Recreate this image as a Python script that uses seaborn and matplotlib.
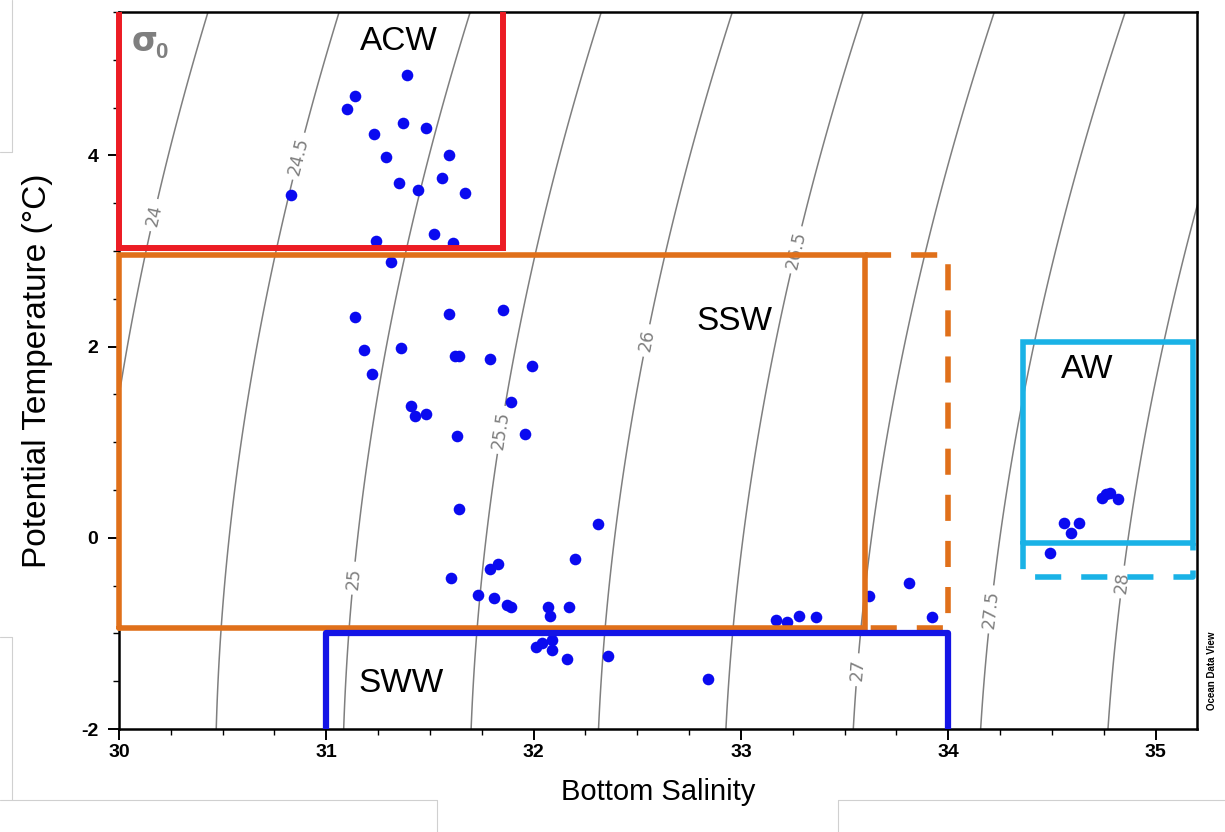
import numpy as np
import pandas as pd
import matplotlib
matplotlib.use("Agg")
import matplotlib.pyplot as plt
from matplotlib.ticker import MultipleLocator
from matplotlib.lines import Line2D
import seaborn as sns

# ---------------- data ----------------
salinity = [31.39, 31.14, 31.10, 31.37, 31.48, 31.23, 31.29, 31.59, 31.35, 31.56, 31.44, 31.67, 30.83,
            31.52, 31.24, 31.61, 31.31,
            31.14, 31.59, 31.85, 31.18, 31.36, 31.62, 31.64, 31.79, 31.99, 31.22, 31.89, 31.41, 31.43,
            31.48, 31.63, 31.96,
            31.64, 32.31, 32.20, 31.60, 31.79, 31.83, 31.73, 31.81, 31.87, 31.89, 32.07, 32.17, 32.08,
            32.01, 32.04, 32.09, 32.09, 32.16, 32.36, 32.84,
            33.17, 33.22, 33.28, 33.36, 33.62, 33.81, 33.92,
            34.49, 34.56, 34.59, 34.63, 34.74, 34.76, 34.78, 34.82]
temperature = [4.84, 4.62, 4.49, 4.34, 4.29, 4.22, 3.98, 4.00, 3.71, 3.76, 3.64, 3.61, 3.59,
               3.18, 3.10, 3.08, 2.88,
               2.31, 2.34, 2.38, 1.96, 1.99, 1.90, 1.90, 1.87, 1.80, 1.71, 1.42, 1.38, 1.27,
               1.30, 1.06, 1.09,
               0.30, 0.14, -0.22, -0.42, -0.33, -0.27, -0.60, -0.63, -0.70, -0.72, -0.72, -0.72, -0.82,
               -1.14, -1.10, -1.07, -1.17, -1.27, -1.24, -1.48,
               -0.86, -0.88, -0.82, -0.83, -0.61, -0.47, -0.83,
               -0.16, 0.15, 0.05, 0.15, 0.42, 0.46, 0.47, 0.41]

sigma_levels = [24.0, 24.5, 25.0, 25.5, 26.0, 26.5, 27.0, 27.5, 28.0]
sigma_label_S = [30.16, 30.87, 31.12, 31.84, 32.53, 33.25, 33.56, 34.21, 34.83]
sigma_label_T = [3.38, 3.99, -0.42, 1.13, 2.07, 3.02, -1.38, -0.75, -0.46]

x_ticks = [30, 31, 32, 33, 34, 35]
y_ticks = [-2, 0, 2, 4]

# water-mass boxes (salinity range, temperature range)
ACW_S = [30.0, 31.85]; ACW_T = [3.03, 5.5]
SSW_S = [30.0, 33.6];  SSW_T = [-0.94, 2.96]
SSW_ext_S = [33.6, 34.0]
SWW_S = [31.0, 34.0];  SWW_T = [-2.0, -1.0]
AW_S = [34.36, 35.18]; AW_T = [-0.05, 2.05]
AW_ext_T = [-0.41, -0.05]

names = ["ACW", "SSW", "AW", "SWW"]
name_S = [31.35, 32.97, 34.67, 31.36]
name_T = [5.19, 2.26, 1.76, -1.52]

# ---------------- style ----------------
sns.set_style("ticks")
plt.rcParams['font.family'] = ['Liberation Sans', 'DejaVu Sans']
plt.rcParams['text.color'] = 'black'
plt.rcParams['axes.labelcolor'] = 'black'
plt.rcParams['xtick.color'] = 'black'
plt.rcParams['ytick.color'] = 'black'

RED = "#ec1c24"
ORANGE = "#e0701a"
BLUE = "#1414e6"
DOT = "#0a0af0"
CYAN = "#1ab2e6"
GRAY = "#7f7f7f"

fig = plt.figure(figsize=(12.25, 8.32), dpi=100)
ax = fig.add_axes([119/1225, 103/832, 1078/1225, 717/832])

# density (sigma-0) field, UNESCO EOS-80 at p = 0
Sg, Tg = np.meshgrid(np.linspace(29.8, 35.4, 400), np.linspace(-2.2, 5.7, 400))
rho_w = (999.842594 + 6.793952e-2*Tg - 9.095290e-3*Tg**2 + 1.001685e-4*Tg**3
         - 1.120083e-6*Tg**4 + 6.536332e-9*Tg**5)
rho = (rho_w + Sg*(0.824493 - 4.0899e-3*Tg + 7.6438e-5*Tg**2 - 8.2467e-7*Tg**3 + 5.3875e-9*Tg**4)
       + Sg**1.5*(-5.72466e-3 + 1.0227e-4*Tg - 1.6546e-6*Tg**2) + 4.8314e-4*Sg**2)
sigma0 = rho - 1000.0

cs = ax.contour(Sg, Tg, sigma0, levels=sigma_levels, colors=GRAY, linewidths=1.1, zorder=1)
ax.clabel(cs, fmt=lambda v: f"{v:g}", manual=list(zip(sigma_label_S, sigma_label_T)),
          inline=True, inline_spacing=6, fontsize=12.5, colors=GRAY)
for t in cs.labelTexts:
    t.set_family('DejaVu Sans')

df = pd.DataFrame({"Bottom Salinity": salinity, "Potential Temperature": temperature})
sns.scatterplot(data=df, x="Bottom Salinity", y="Potential Temperature", ax=ax,
                color=DOT, s=70, linewidth=0, zorder=3)

# boxes
ax.plot([ACW_S[0], ACW_S[0], ACW_S[1], ACW_S[1]], [ACW_T[1], ACW_T[0], ACW_T[0], ACW_T[1]],
        color=RED, lw=4.3, zorder=4, clip_on=False, solid_joinstyle='miter', solid_capstyle='butt')
ax.plot([SSW_S[0], SSW_S[1], SSW_S[1], SSW_S[0], SSW_S[0]],
        [SSW_T[0], SSW_T[0], SSW_T[1], SSW_T[1], SSW_T[0]],
        color=ORANGE, lw=4.0, zorder=4, clip_on=False, solid_joinstyle='miter')
ax.plot([SSW_ext_S[0], SSW_ext_S[1], SSW_ext_S[1], SSW_ext_S[0]],
        [SSW_T[1], SSW_T[1], SSW_T[0], SSW_T[0]],
        color=ORANGE, lw=4.0, zorder=4, dashes=(4.7, 3.6))
ax.plot([SWW_S[0], SWW_S[0], SWW_S[1], SWW_S[1]], [SWW_T[0], SWW_T[1], SWW_T[1], SWW_T[0]],
        color=BLUE, lw=4.5, zorder=5, clip_on=False, solid_joinstyle='round', solid_capstyle='butt')
ax.plot([AW_S[0], AW_S[1], AW_S[1], AW_S[0], AW_S[0]],
        [AW_T[0], AW_T[0], AW_T[1], AW_T[1], AW_T[0]],
        color=CYAN, lw=4.0, zorder=4, solid_joinstyle='miter')
ax.plot([AW_S[0], AW_S[0], AW_S[1], AW_S[1]],
        [AW_ext_T[1], AW_ext_T[0], AW_ext_T[0], AW_ext_T[1]],
        color=CYAN, lw=4.0, zorder=4, dashes=(4.7, 3.6))

for n, xs, yt in zip(names, name_S, name_T):
    ax.text(xs, yt, n, fontsize=24, ha='center', va='center', color='black', zorder=6)

ax.text(30.06, 5.19, "σ", fontsize=24, fontweight='bold', color=GRAY, ha='left', va='center',
        family='DejaVu Sans', zorder=6)
ax.text(30.175, 5.08, "0", fontsize=16, fontweight='bold', color=GRAY, ha='left', va='center', zorder=6)

# axes
ax.set_xlim(30, 35.2)
ax.set_ylim(-2, 5.5)
ax.set_xticks(x_ticks)
ax.set_yticks(y_ticks)
ax.set_xticklabels([str(v) for v in x_ticks])
ax.set_yticklabels([str(v) for v in y_ticks])
ax.xaxis.set_minor_locator(MultipleLocator(0.25))
ax.yaxis.set_minor_locator(MultipleLocator(0.5))
ax.tick_params(which='major', direction='out', length=8, width=1.4, labelsize=14, colors='black')
ax.tick_params(axis='x', which='major', pad=3)
ax.tick_params(axis='y', which='major', pad=7)
ax.tick_params(which='minor', direction='out', length=4, width=1.0, colors='black')
for lab in ax.get_xticklabels() + ax.get_yticklabels():
    lab.set_fontweight('bold')
for sp in ax.spines.values():
    sp.set_visible(True)
    sp.set_linewidth(1.8)
    sp.set_color('black')
ax.set_xlabel("Bottom Salinity", fontsize=21, labelpad=12, color='black')
ax.set_ylabel("Potential Temperature (°C)", fontsize=24, labelpad=20, color='black')

fig.text(1212/1225, 1 - 671/832, "Ocean Data View", rotation=90, fontsize=7, fontweight='bold',
         ha='center', va='center', color='black')

# faint frame remnants around the figure
for (x0, y0, x1, y1) in [(12, 0, 12, 152), (0, 152, 12, 152), (12, 637, 12, 800), (0, 637, 12, 637),
                         (0, 800, 437, 800), (437, 800, 437, 832), (838, 800, 1225, 800),
                         (838, 800, 838, 832)]:
    fig.add_artist(Line2D([x0/1225, x1/1225], [1 - y0/832, 1 - y1/832], color='#d0d0d0', lw=0.8))

fig.savefig("out.png", dpi=100)
